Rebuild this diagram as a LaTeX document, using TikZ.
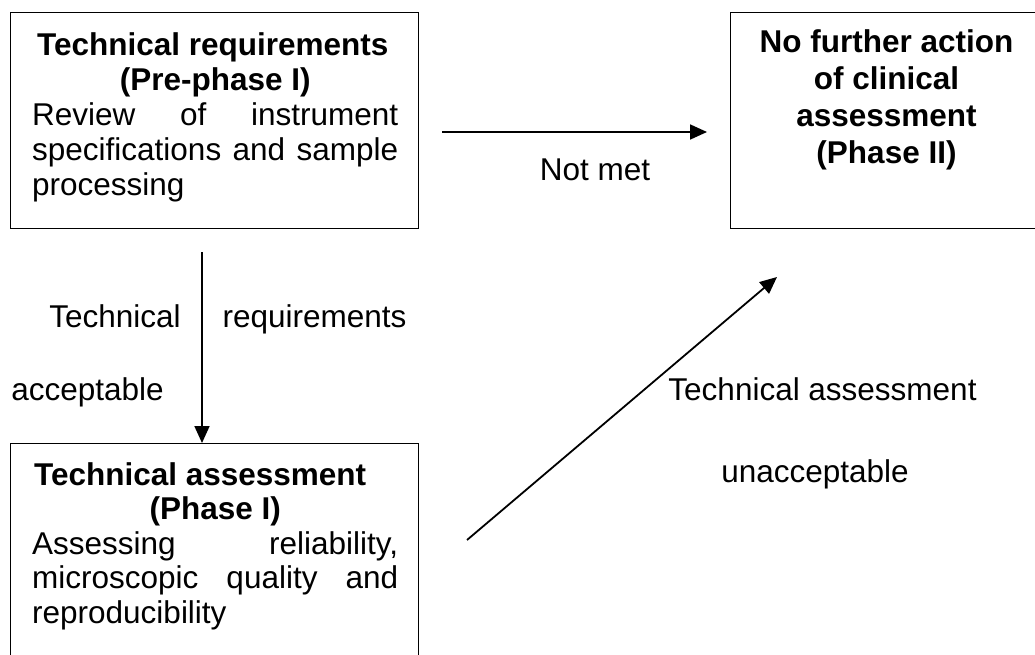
\documentclass[tikz,border=0pt]{standalone}
\usepackage{fontspec}
\setmainfont{Liberation Sans}
\usetikzlibrary{arrows.meta}
\setlength{\parindent}{0pt}
\begin{document}
\begin{tikzpicture}[x=1pt,y=1pt,
  box/.style={draw=black, line width=1.3pt, anchor=north west, inner sep=0pt},
  body/.style={anchor=north west, inner sep=0pt, text width=366pt, align=justify, font=\fontsize{31.5pt}{35pt}\selectfont},
  lbl/.style={anchor=base, inner sep=0pt, font=\fontsize{31.5pt}{35pt}\selectfont},
  arr/.style={line width=1.8pt, -{Triangle[length=17pt,width=15pt]}}]
\useasboundingbox (0,0) rectangle (1035,-655);
% boxes
\node[box, minimum width=408pt, minimum height=216pt] (b1) at (10,-12) {};
\node[box, minimum width=330pt, minimum height=216pt] (b2) at (730,-12) {};
\node[box, minimum width=408pt, minimum height=240pt] (b3) at (10,-443) {};
% box texts
\node[body] (t1) at (32,-32) {{\leftskip=0pt plus 1fil\rightskip=0pt plus 1fil\parfillskip=0pt\bfseries Technical requirements\newline (Pre-phase I)\par}Review of instrument\linebreak specifications and sample\linebreak processing};
\node[body, font=\fontsize{31.5pt}{34.5pt}\selectfont] (t3) at (32,-462) {{\leftskip=0pt plus 1fil\rightskip=0pt plus 1fil\parfillskip=0pt\bfseries Technical assessment\hspace*{28pt}\newline (Phase I)\par}Assessing reliability,\linebreak microscopic quality and\linebreak reproducibility};
\node[anchor=north, inner sep=0pt, align=center, font=\fontsize{31.5pt}{37pt}\selectfont\bfseries] (t2) at (886.5,-29) {No further action\\of clinical\\assessment\\(Phase II)};
% connectors
\coordinate (p1) at (442,-132);
\coordinate (p2) at (707,-132);
\draw[arr] (p1) -- (p2);
\coordinate (q1) at (202,-252);
\draw[arr] (q1) -- (q1 |- b3.north);
\coordinate (r1) at (467,-540);
\coordinate (r2) at (777,-277);
\draw[arr] (r1) -- (r2);
% labels
\node[lbl] (l1) at (595,-180) {Not met};
\node[lbl] (l2a) at (115,-327) {Technical};
\node[lbl] (l2b) at (314.5,-327) {requirements};
\node[lbl] (l2c) at (87.5,-400) {acceptable};
\node[lbl] (l3a) at (822.5,-400) {Technical assessment};
\node[lbl] (l3b) at (815,-482) {unacceptable};
\end{tikzpicture}
\end{document}
